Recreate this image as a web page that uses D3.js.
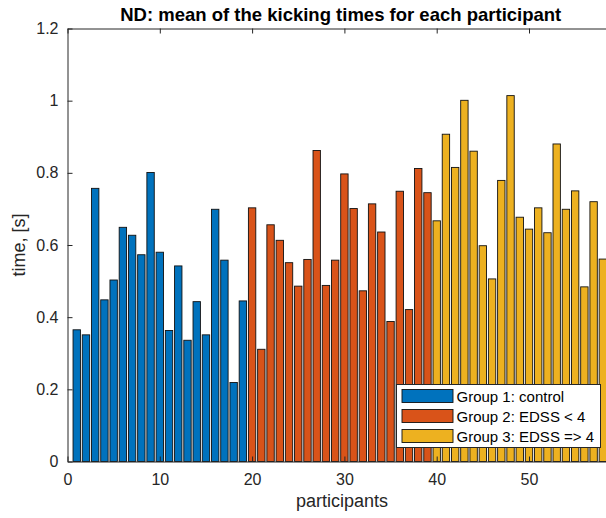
<!DOCTYPE html>
<html lang="en">
<head>
    <meta charset="UTF-8">
    <title>ND: mean of the kicking times</title>
    <style type="text/css">
        body {
            margin: 0;
            background-color: #fff;
            font-family: 'Liberation Sans', Arial, sans-serif;
        }
        svg { display: block; overflow: hidden; }
        .axis path,
        .axis line {
            fill: none;
            stroke: #262626;
        }
        .axis text {
            fill: #262626;
            font-size: 16px;
        }
    </style>
</head>
<body>
<div id="chart"></div>
<script src="https://cdn.jsdelivr.net/npm/d3@7"></script>
<script type="text/javascript">
    // mean kicking time per participant, one array per group
    var group1Times = [0.365, 0.351, 0.757, 0.448, 0.503, 0.649, 0.627, 0.573, 0.801, 0.580,
        0.363, 0.542, 0.336, 0.443, 0.351, 0.699, 0.558, 0.219, 0.445];
    var group2Times = [0.703, 0.311, 0.656, 0.613, 0.551, 0.486, 0.560, 0.862, 0.488, 0.558,
        0.797, 0.701, 0.473, 0.714, 0.636, 0.388, 0.749, 0.421, 0.812, 0.745];
    var group3Times = [0.667, 0.907, 0.815, 1.001, 0.860, 0.598, 0.506, 0.779, 1.014, 0.677,
        0.644, 0.703, 0.634, 0.880, 0.699, 0.750, 0.484, 0.720, 0.561];

    var groupNames = ["Group 1: control", "Group 2: EDSS < 4", "Group 3: EDSS => 4"];
    var groupColors = ["#0072BD", "#D95319", "#EDB120"];

    var xTicks = [0, 10, 20, 30, 40, 50];
    var yTicks = [0, 0.2, 0.4, 0.6, 0.8, 1, 1.2];

    var W = 606, H = 518;
    var mLeft = 67.5, mTop = 28.5, mBottom = 461.5;
    var unit = 9.23;     // px per participant
    var xMax = 60;       // axes run on past the right edge of the picture

    // participant numbers run on from one group to the next
    var bars = [];
    [group1Times, group2Times, group3Times].forEach(function (arr, g) {
        arr.forEach(function (v) {
            bars.push({p: bars.length + 1, t: v, g: g});
        });
    });

    var x = d3.scaleLinear().domain([0, xMax]).range([mLeft, mLeft + xMax * unit]);
    var y = d3.scaleLinear().domain([0, 1.2]).range([mBottom, mTop]);
    var mRight = x(xMax);

    var svg = d3.select("#chart").append("svg")
        .attr("width", W)
        .attr("height", H);

    svg.append("rect").attr("width", W).attr("height", H).attr("fill", "#fff");

    var bw = 0.8 * unit;
    svg.append("g").selectAll("rect")
        .data(bars)
        .enter().append("rect")
        .attr("x", function (d) { return x(d.p) - bw / 2; })
        .attr("y", function (d) { return y(d.t); })
        .attr("width", bw)
        .attr("height", function (d) { return y(0) - y(d.t); })
        .attr("fill", function (d) { return groupColors[d.g]; })
        .attr("stroke", "#111")
        .attr("stroke-width", 0.9);

    // box with inward ticks on all four sides
    var tl = 5;
    svg.append("g").attr("class", "axis")
        .attr("transform", "translate(0," + mBottom + ")")
        .call(d3.axisBottom(x).tickValues(xTicks).tickSizeInner(-tl).tickSizeOuter(0).tickPadding(12)
            .tickFormat(d3.format("d")));
    svg.append("g").attr("class", "axis")
        .attr("transform", "translate(0," + mTop + ")")
        .call(d3.axisTop(x).tickValues(xTicks).tickSizeInner(-tl).tickSizeOuter(0).tickFormat(""));
    svg.append("g").attr("class", "axis")
        .attr("transform", "translate(" + mLeft + ",0)")
        .call(d3.axisLeft(y).tickValues(yTicks).tickSizeInner(-tl).tickSizeOuter(0).tickPadding(9)
            .tickFormat(function (d) { return d3.format("")(d); }));
    svg.append("g").attr("class", "axis")
        .attr("transform", "translate(" + mRight + ",0)")
        .call(d3.axisRight(y).tickValues(yTicks).tickSizeInner(-tl).tickSizeOuter(0).tickFormat(""));

    svg.append("text")
        .attr("x", (mLeft + 606) / 2 + 4)
        .attr("y", 21)
        .attr("text-anchor", "middle")
        .style("font-size", "18.5px")
        .style("font-weight", "bold")
        .attr("fill", "#000")
        .text("ND: mean of the kicking times for each participant");

    svg.append("text")
        .attr("x", 342)
        .attr("y", 507)
        .attr("text-anchor", "middle")
        .style("font-size", "18px")
        .attr("fill", "#262626")
        .text("participants");

    svg.append("text")
        .attr("transform", "translate(25," + (y(0.6)) + ") rotate(-90)")
        .attr("text-anchor", "middle")
        .style("font-size", "18px")
        .attr("fill", "#262626")
        .text("time, [s]");

    // legend, south-east corner
    var lg = svg.append("g").attr("transform", "translate(396.5,384.5)");
    lg.append("rect")
        .attr("width", 204).attr("height", 63)
        .attr("fill", "#fff").attr("stroke", "#262626").attr("stroke-width", 1);
    var row = lg.selectAll(".row")
        .data(groupNames)
        .enter().append("g")
        .attr("class", "row")
        .attr("transform", function (d, i) { return "translate(0," + (11.5 + i * 20) + ")"; });
    row.append("rect")
        .attr("x", 5.5).attr("y", -6.5)
        .attr("width", 51).attr("height", 13)
        .attr("fill", function (d, i) { return groupColors[i]; })
        .attr("stroke", "#111").attr("stroke-width", 0.9);
    row.append("text")
        .attr("x", 60)
        .attr("y", 5.5)
        .style("font-size", "15px")
        .attr("fill", "#000")
        .text(function (d) { return d; });
</script>
</body>
</html>
